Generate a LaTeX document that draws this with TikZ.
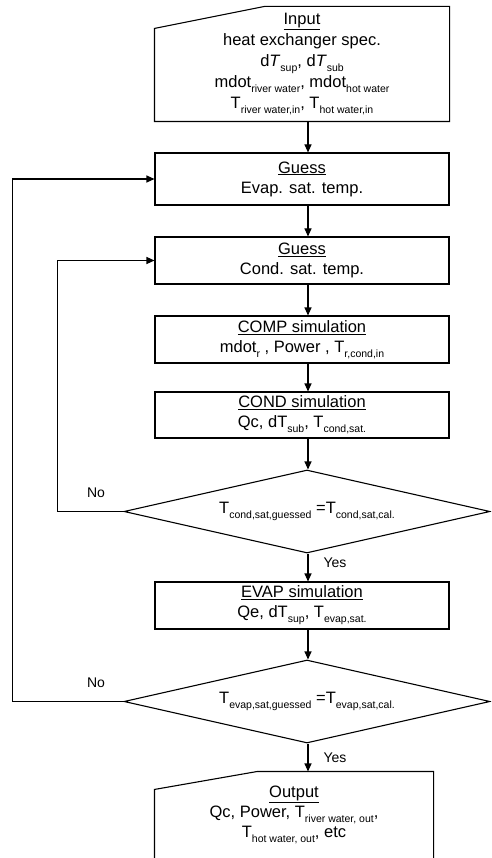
\documentclass[tikz,border=0pt]{standalone}
\usepackage{fontspec}
\setmainfont{Liberation Sans}
\usetikzlibrary{arrows.meta,shapes.geometric,calc}
\newcommand{\sbs}[1]{\raisebox{-5pt}{\fontsize{10.5}{10.5}\selectfont #1}}
\begin{document}
\begin{tikzpicture}[x=1pt,y=-1pt, line width=1.1pt,
  >={Triangle[length=8pt,width=7pt]},
  txt/.style={align=center, inner sep=0pt, font=\fontsize{16.5}{20}\selectfont},
  boxstyle/.style={txt, draw, rectangle, minimum width=294pt, minimum height=#1},
  decide/.style={txt, draw, diamond, aspect=4.4, minimum width=366pt, minimum height=83pt},
  lbl/.style={inner sep=0pt, font=\fontsize{14}{16}\selectfont}]
\useasboundingbox (0,0) rectangle (491,858);
\clip (0,0) rectangle (491,858);
\coordinate (spine) at (308,0);

% Input (manual input shape)
\node[txt, minimum width=294pt, minimum height=114pt, font=\fontsize{16.5}{21.2}\selectfont] (input) at (302,64)
  {\underline{Input}\\ heat exchanger spec.\\ d\textit{T}\sbs{sup}, d\textit{T}\sbs{sub}\\
   mdot\sbs{river water}, mdot\sbs{hot water}\\ T\sbs{river water,in}, T\sbs{hot water,in}};
\draw (input.south west) -- (input.south east) -- (input.north east)
  -- ([xshift=110pt]input.north west) -- ([yshift=-22pt]input.north west) -- cycle;

\node[boxstyle=52pt] (g1) at (302,179) {\underline{Guess}\\ Evap. sat. temp.};
\node[boxstyle=47pt] (g2) at (302,260.5) {\underline{Guess}\\ Cond. sat. temp.};
\node[boxstyle=47pt] (comp) at (302,339.5) {\underline{COMP simulation}\\ mdot\sbs{r} , Power , T\sbs{r,cond,in}};
\node[boxstyle=46pt] (cond) at (302,415) {\underline{COND simulation}\\ Qc, dT\sbs{sub}, T\sbs{cond,sat.}};
\node[decide] (d1) at (307,511.5) {T\sbs{cond,sat,guessed} =T\sbs{cond,sat,cal.}};
\node[boxstyle=47pt] (evap) at (302,605.5) {\underline{EVAP simulation}\\ Qe, dT\sbs{sup}, T\sbs{evap,sat.}};
\node[decide] (d2) at (307,701.5) {T\sbs{evap,sat,guessed} =T\sbs{evap,sat,cal.}};

% Output (manual input shape, cut off at the bottom)
\node[minimum width=278pt, minimum height=98pt, inner sep=0pt] (output) at (294,821) {};
\draw (output.south west) -- ([yshift=-18pt]output.north west) -- ([xshift=103pt]output.north west)
  -- (output.north east) -- (output.south east);
\node[txt] (outtext) at (294,815) {\underline{Output}\\ Qc, Power, T\sbs{river water, out}, \\ T\sbs{hot water, out}, etc};

% connectors
\draw[->] (input.south -| spine) -- (g1.north -| spine);
\draw[->] (g1.south -| spine) -- (g2.north -| spine);
\draw[->] (g2.south -| spine) -- (comp.north -| spine);
\draw[->] (comp.south -| spine) -- (cond.north -| spine);
\draw[->] (cond.south -| spine) -- (d1.north -| spine);
\draw[->] (d1.south -| spine) -- (evap.north -| spine);
\draw[->] (evap.south -| spine) -- (d2.north -| spine);
\draw[->] (d2.south -| spine) -- (output.north -| spine);
\draw[->] (d1.west) -- ++(-66,0) |- (g2.west);
\draw[->] (d2.west) -- ++(-111,0) |- (g1.west);

% labels
\node[lbl] (no1) at (96,493) {No};
\node[lbl] (no2) at (96,683) {No};
\node[lbl] (yes1) at (335,563) {Yes};
\node[lbl] (yes2) at (335,758) {Yes};
\end{tikzpicture}
\end{document}
